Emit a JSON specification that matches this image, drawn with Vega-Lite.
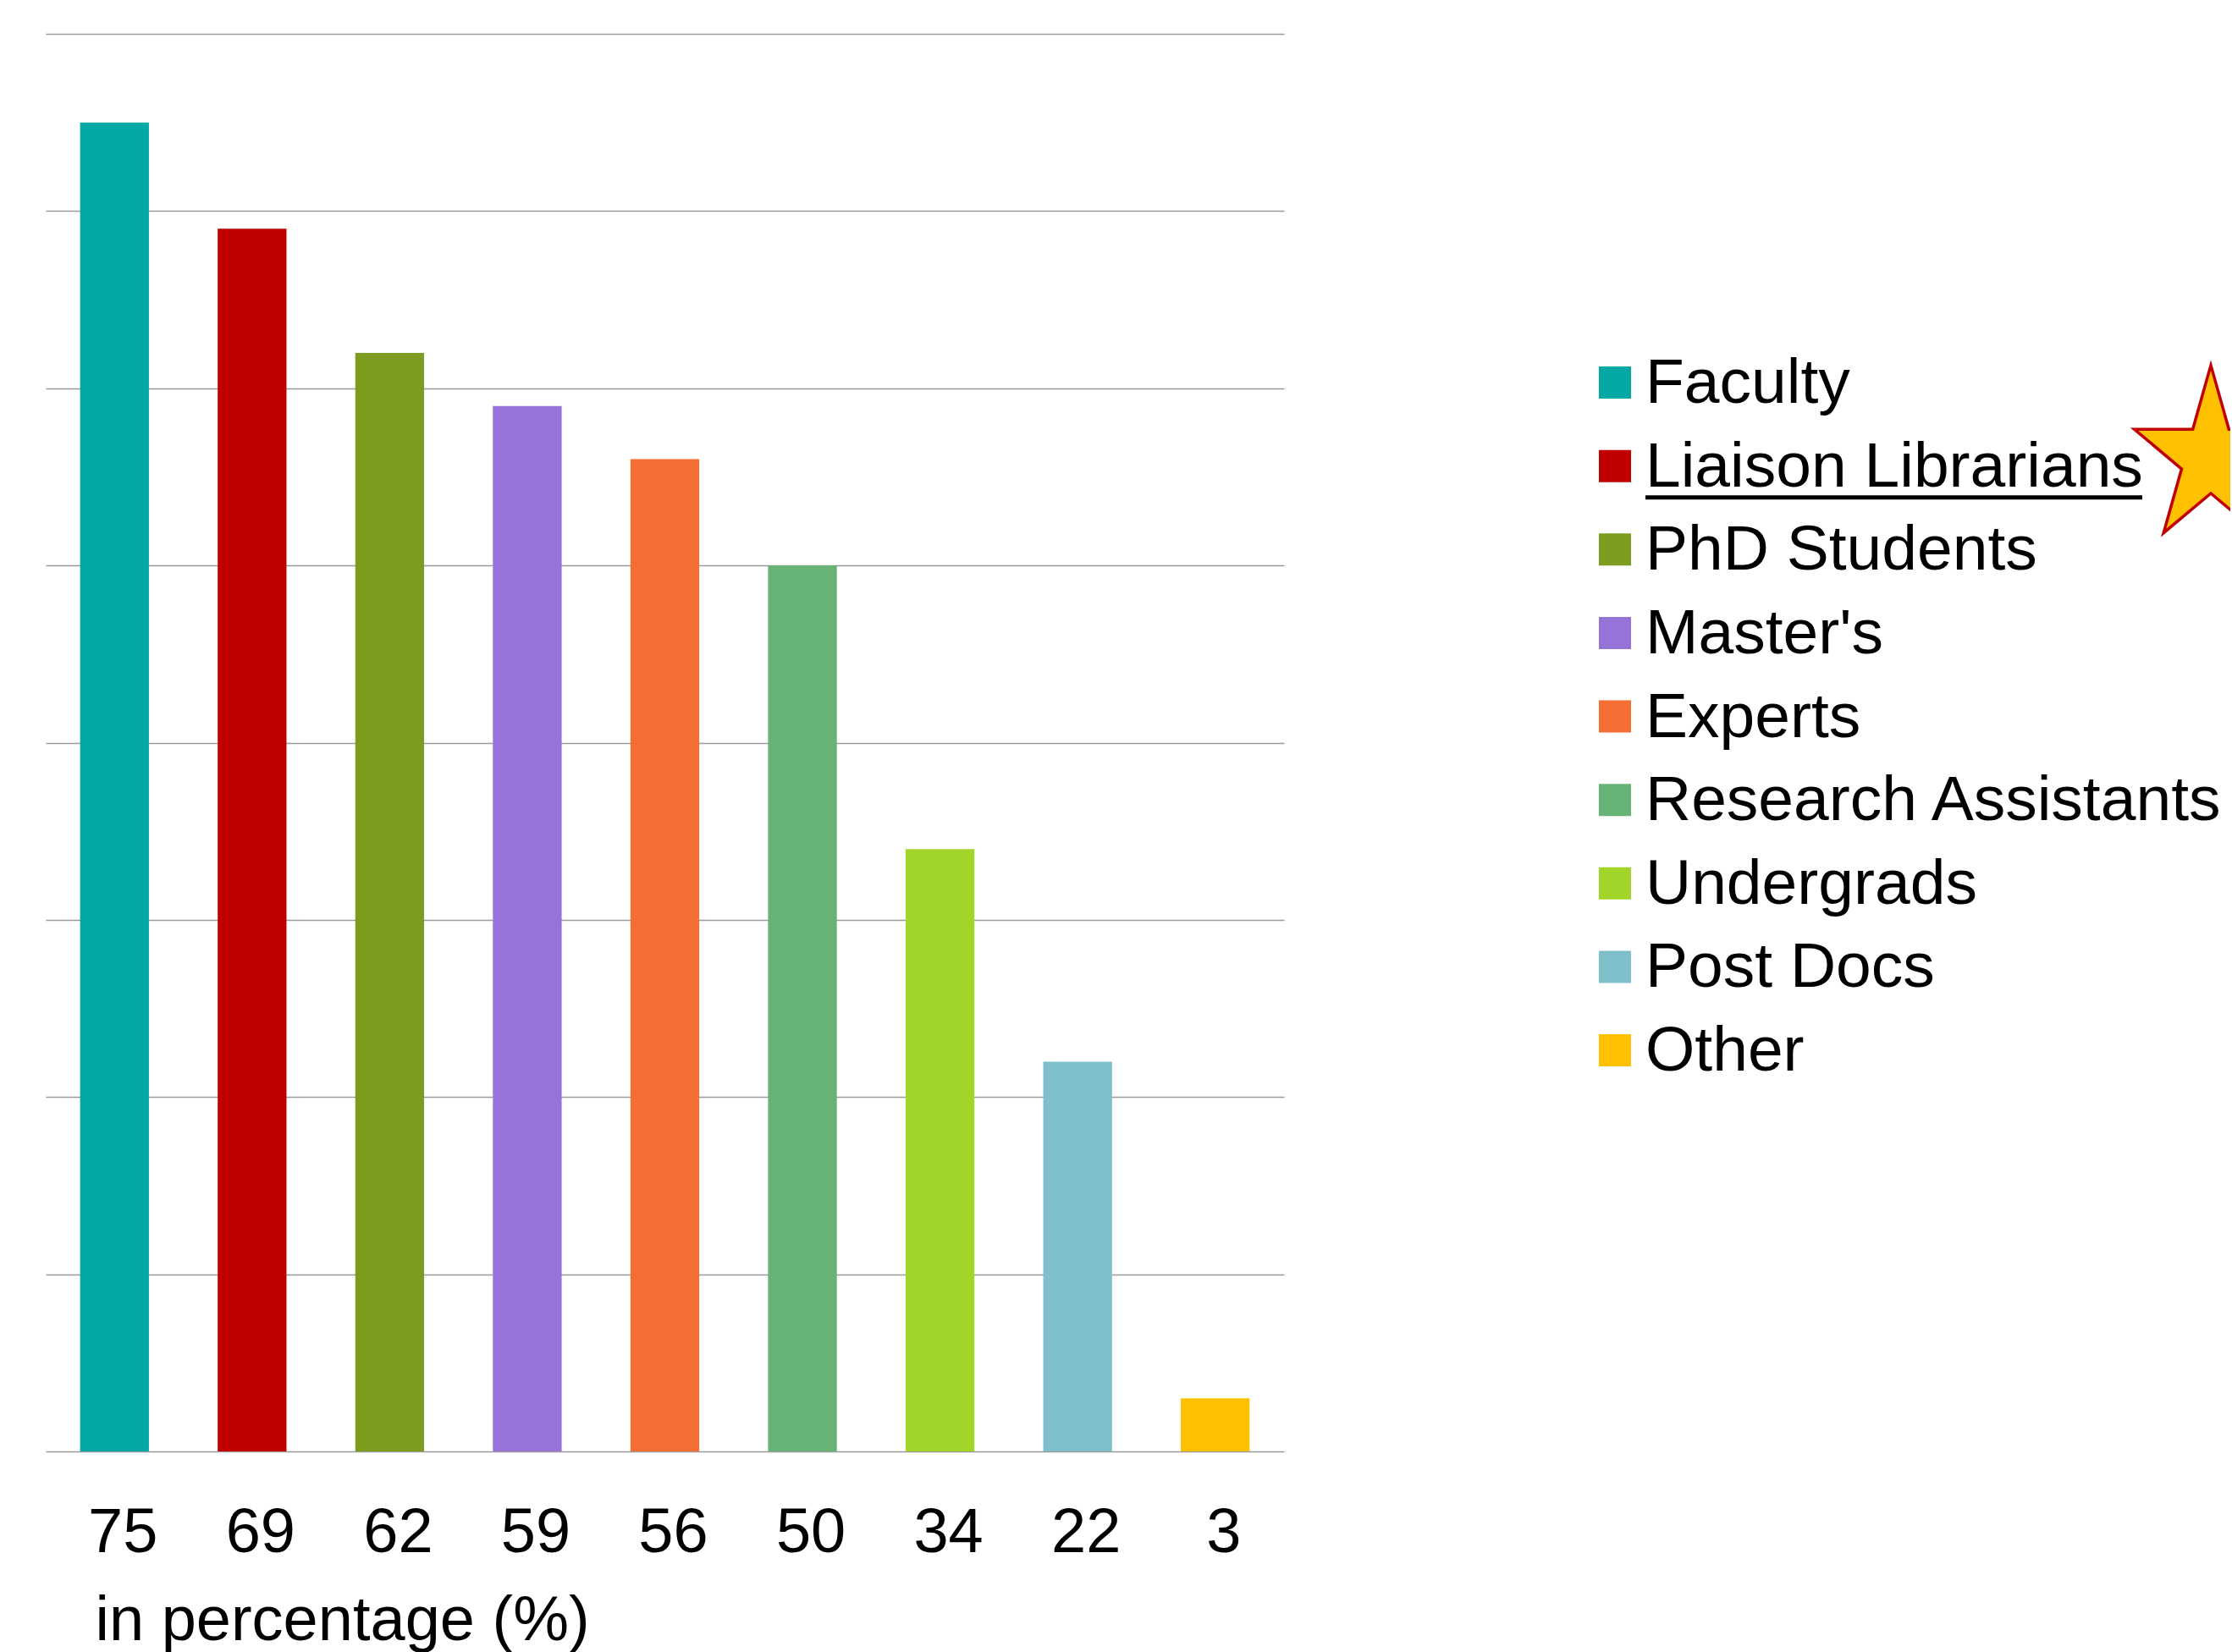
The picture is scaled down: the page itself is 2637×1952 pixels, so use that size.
{
  "$schema": "https://vega.github.io/schema/vega-lite/v6.json",
  "padding": {"left": 54, "top": 40, "right": 0, "bottom": 0},
  "autosize": {"type": "pad"},
  "background": "white",
  "config": {"view": {"stroke": null}, "font": "Liberation Sans"},
  "datasets": {
    "groups": [
      {"group": "Faculty", "value": 75},
      {"group": "Liaison Librarians", "value": 69},
      {"group": "PhD Students", "value": 62},
      {"group": "Master's", "value": 59},
      {"group": "Experts", "value": 56},
      {"group": "Research Assistants", "value": 50},
      {"group": "Undergrads", "value": 34},
      {"group": "Post Docs", "value": 22},
      {"group": "Other", "value": 3}
    ]
  },
  "spacing": 343,
  "resolve": {"scale": {"x": "independent", "y": "independent", "color": "shared"}},
  "hconcat": [
    {
      "data": {"name": "groups"},
      "width": 1463,
      "height": 1675,
      "encoding": {
        "x": {
          "field": "group",
          "type": "nominal",
          "sort": {"field": "value", "order": "descending"},
          "scale": {"paddingInner": 0.5, "paddingOuter": 0.25},
          "axis": {
            "title": "in percentage (%)",
            "domain": false,
            "ticks": false,
            "labels": false,
            "grid": false,
            "titleFontSize": 74,
            "titleFont": "Liberation Sans",
            "titleFontWeight": "normal",
            "titleColor": "black",
            "titleX": 58,
            "titleY": 222,
            "titleAlign": "left",
            "titleAnchor": "start",
            "titleBaseline": "alphabetic"
          }
        }
      },
      "layer": [
        {
          "mark": {"type": "bar"},
          "encoding": {
            "y": {
              "field": "value",
              "type": "quantitative",
              "stack": null,
              "scale": {"domain": [0, 80], "nice": false},
              "axis": {
                "values": [0, 10, 20, 30, 40, 50, 60, 70, 80],
                "domain": false,
                "ticks": false,
                "labels": false,
                "title": null,
                "grid": true,
                "gridColor": "#9a9a9a",
                "gridWidth": 1.5
              }
            },
            "color": {
              "field": "group",
              "type": "nominal",
              "scale": {
                "domain": ["Faculty", "Liaison Librarians", "PhD Students", "Master's", "Experts", "Research Assistants", "Undergrads", "Post Docs", "Other"],
                "range": ["#04A9A5", "#C00000", "#7C9C1F", "#9673D9", "#F46D32", "#67B376", "#A1D52A", "#7FBFCC", "#FFC000"]
              },
              "legend": null
            }
          }
        },
        {
          "mark": {"type": "text", "align": "center", "baseline": "alphabetic", "dy": 119, "dx": 10, "fontSize": 74, "font": "Liberation Sans", "color": "black"},
          "encoding": {
            "y": {"datum": 0, "type": "quantitative"},
            "text": {"field": "value", "type": "quantitative"}
          }
        }
      ]
    },
    {
      "data": {"name": "groups"},
      "width": 775,
      "height": 1675,
      "layer": [
        {
          "mark": {"type": "square", "size": 1444, "filled": true, "opacity": 1},
          "encoding": {
            "x": {"datum": 48, "type": "quantitative", "scale": {"domain": [0, 775], "nice": false, "zero": false}, "axis": null},
            "y": {"field": "group", "type": "nominal", "scale": {"type": "point", "padding": 0, "domain": ["Faculty", "Liaison Librarians", "PhD Students", "Master's", "Experts", "Research Assistants", "Undergrads", "Post Docs", "Other"], "range": [412, 1201]}, "axis": null},
            "color": {"field": "group", "type": "nominal", "legend": null}
          }
        },
        {
          "mark": {"type": "text", "align": "left", "baseline": "alphabetic", "dy": 24, "fontSize": 75, "font": "Liberation Sans", "color": "black"},
          "encoding": {
            "x": {"datum": 84, "type": "quantitative"},
            "y": {"field": "group", "type": "nominal"},
            "text": {"field": "group"}
          }
        },
        {
          "transform": [{"filter": "datum.group === 'Liaison Librarians'"}],
          "mark": {"type": "rule", "color": "black", "strokeWidth": 5, "yOffset": 37},
          "encoding": {
            "x": {"datum": 84, "type": "quantitative"},
            "x2": {"datum": 671},
            "y": {"field": "group", "type": "nominal"}
          }
        },
        {
          "transform": [{"filter": "datum.group === 'Liaison Librarians'"}],
          "mark": {
            "type": "point",
            "shape": "M0,-1.095L0.2134,-0.3382L0.9035,-0.3384L0.3452,0.1292L0.5584,0.8859L0,0.418L-0.5584,0.8859L-0.3452,0.1292L-0.9035,-0.3384L-0.2134,-0.3382Z",
            "size": 40000,
            "filled": true,
            "fill": "#FFC000",
            "stroke": "#C00000",
            "strokeWidth": 3.5,
            "opacity": 1,
            "yOffset": -9.5,
            "clip": true
          },
          "encoding": {
            "x": {"datum": 752, "type": "quantitative"},
            "y": {"field": "group", "type": "nominal"}
          }
        }
      ]
    }
  ]
}
